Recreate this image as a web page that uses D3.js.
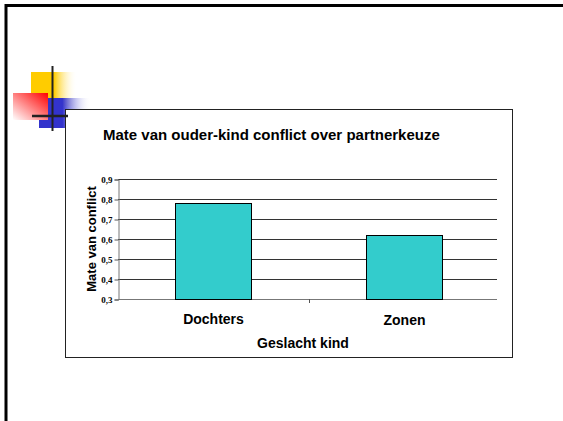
<!DOCTYPE html>
<html>
<head>
<meta charset="utf-8">
<script src="https://cdn.jsdelivr.net/npm/d3@7"></script>
<style>
    body { margin: 0; background: #fff; }
    svg { display: block; }
</style>
</head>
<body>
<div id="chart"></div>
<script>
// data
var categories = ['Dochters', 'Zonen']
var conflictValues = [0.78, 0.62]
var yTicks = [0.3, 0.4, 0.5, 0.6, 0.7, 0.8, 0.9]

var chartTitle = 'Mate van ouder-kind conflict over partnerkeuze',
    yTitle = 'Mate van conflict',
    xTitle = 'Geslacht kind'

var svgWidth = 563,
    svgHeight = 421

// plot area inside the chart box
var plot = { left: 118, right: 500, top: 179, bottom: 299 }

var svg = d3.select('#chart').append('svg')
    .attr('width', svgWidth)
    .attr('height', svgHeight)

var defs = svg.append('defs')

function hGradient(id, color, solidUntil) {
    var g = defs.append('linearGradient').attr('id', id)
        .attr('x1', 0).attr('y1', 0).attr('x2', 1).attr('y2', 0)
    g.append('stop').attr('offset', 0).attr('stop-color', color)
    g.append('stop').attr('offset', solidUntil).attr('stop-color', color)
    g.append('stop').attr('offset', 1).attr('stop-color', '#fff').attr('stop-opacity', 0)
}
hGradient('yellowFade', '#ffcc00', 0.5)
hGradient('blueFade', '#3333cc', 0.45)

var red = defs.append('linearGradient').attr('id', 'redFade')
    .attr('x1', 1).attr('y1', 0).attr('x2', 0).attr('y2', 1)
red.append('stop').attr('offset', 0).attr('stop-color', '#ff0000')
red.append('stop').attr('offset', 1).attr('stop-color', '#fff')

// slide frame
svg.append('line')
    .attr('x1', 6).attr('x2', 6).attr('y1', 4).attr('y2', svgHeight)
    .attr('stroke', '#000').attr('stroke-width', 3)
svg.append('line')
    .attr('x1', 5).attr('x2', svgWidth).attr('y1', 5.5).attr('y2', 5.5)
    .attr('stroke', '#000').attr('stroke-width', 3)

// decoration squares
var deco = svg.append('g')
deco.append('rect').attr('x', 31).attr('y', 72).attr('width', 46).attr('height', 34)
    .attr('fill', 'url(#yellowFade)')
deco.append('rect').attr('x', 39).attr('y', 98).attr('width', 52).attr('height', 30)
    .attr('fill', 'url(#blueFade)')
deco.append('rect').attr('x', 13).attr('y', 93).attr('width', 35).attr('height', 27)
    .attr('fill', 'url(#redFade)')

// chart box
svg.append('rect')
    .attr('x', 65.5).attr('y', 109.5)
    .attr('width', 447).attr('height', 248)
    .attr('fill', '#fff')
    .attr('stroke', '#222')

// cross lines over the squares
deco = svg.append('g')
deco.append('line').attr('x1', 52.5).attr('x2', 52.5).attr('y1', 66).attr('y2', 131)
    .attr('stroke', '#222').attr('stroke-width', 2)
deco.append('line').attr('x1', 32).attr('x2', 68).attr('y1', 116).attr('y2', 116)
    .attr('stroke', '#222').attr('stroke-width', 2.5)

// scales
var xScale = d3.scaleBand()
    .domain(categories)
    .range([plot.left, plot.right])
    .paddingInner(0.6)
    .paddingOuter(0.3)

var yScale = d3.scaleLinear()
    .domain([0.3, 0.9])
    .range([plot.bottom, plot.top])

var fmt = d => d3.format('.1f')(d).replace('.', ',')

// gridlines
svg.append('g')
    .selectAll('line')
    .data(yTicks.slice(1))
    .join('line')
    .attr('x1', plot.left).attr('x2', 497)
    .attr('y1', d => Math.round(yScale(d)) + 0.5)
    .attr('y2', d => Math.round(yScale(d)) + 0.5)
    .attr('stroke', '#333')

// y axis
var yAxis = svg.append('g')
    .attr('transform', 'translate(' + (plot.left + 0.5) + ',0.5)')
    .call(d3.axisLeft(yScale).tickValues(yTicks).tickFormat(fmt).tickSize(4))
yAxis.select('.domain').attr('stroke', '#777')
yAxis.selectAll('.tick line').attr('stroke', '#555')
yAxis.selectAll('text')
    .attr('x', -6)
    .style('font-family', '"Liberation Serif", "Times New Roman", serif')
    .style('font-weight', 'bold')
    .style('font-size', '9px')
    .attr('fill', '#000')

// x axis
var xAxis = svg.append('g')
    .attr('transform', 'translate(0,' + (plot.bottom + 0.5) + ')')
    .call(d3.axisBottom(xScale).tickSize(0).tickSizeOuter(0))
xAxis.select('.domain').attr('stroke', '#777').attr('d', 'M' + plot.left + ',0H497')
xAxis.selectAll('text')
    .attr('dy', 0)
    .attr('y', 24)
    .style('font-family', '"Liberation Sans", Arial, sans-serif')
    .style('font-weight', 'bold')
    .style('font-size', '14px')
    .attr('fill', '#000')
xAxis.selectAll('.tick').filter((d, i) => i === 1).select('text').attr('y', 25)

// middle tick between the two categories
svg.append('line')
    .attr('x1', 309.5).attr('x2', 309.5)
    .attr('y1', plot.bottom).attr('y2', plot.bottom + 4)
    .attr('stroke', '#555')

// bars
svg.append('g')
    .selectAll('rect')
    .data(conflictValues)
    .join('rect')
    .attr('x', (d, i) => Math.round(xScale(categories[i])) + 0.5)
    .attr('y', d => Math.round(yScale(d)) + 0.5)
    .attr('width', Math.round(xScale.bandwidth()))
    .attr('height', d => Math.round(yScale(0.3)) - Math.round(yScale(d)))
    .attr('fill', '#33cccc')
    .attr('stroke', '#000')

// titles
svg.append('text')
    .attr('x', 103).attr('y', 140)
    .style('font-family', '"Liberation Sans", Arial, sans-serif')
    .style('font-weight', 'bold')
    .style('font-size', '15px')
    .text(chartTitle)

svg.append('text')
    .attr('text-anchor', 'middle')
    .attr('transform', 'translate(96,239) rotate(-90)')
    .style('font-family', '"Liberation Sans", Arial, sans-serif')
    .style('font-weight', 'bold')
    .style('font-size', '13px')
    .text(yTitle)

svg.append('text')
    .attr('text-anchor', 'middle')
    .attr('x', 303).attr('y', 348)
    .style('font-family', '"Liberation Sans", Arial, sans-serif')
    .style('font-weight', 'bold')
    .style('font-size', '14px')
    .text(xTitle)
</script>
</body>
</html>
